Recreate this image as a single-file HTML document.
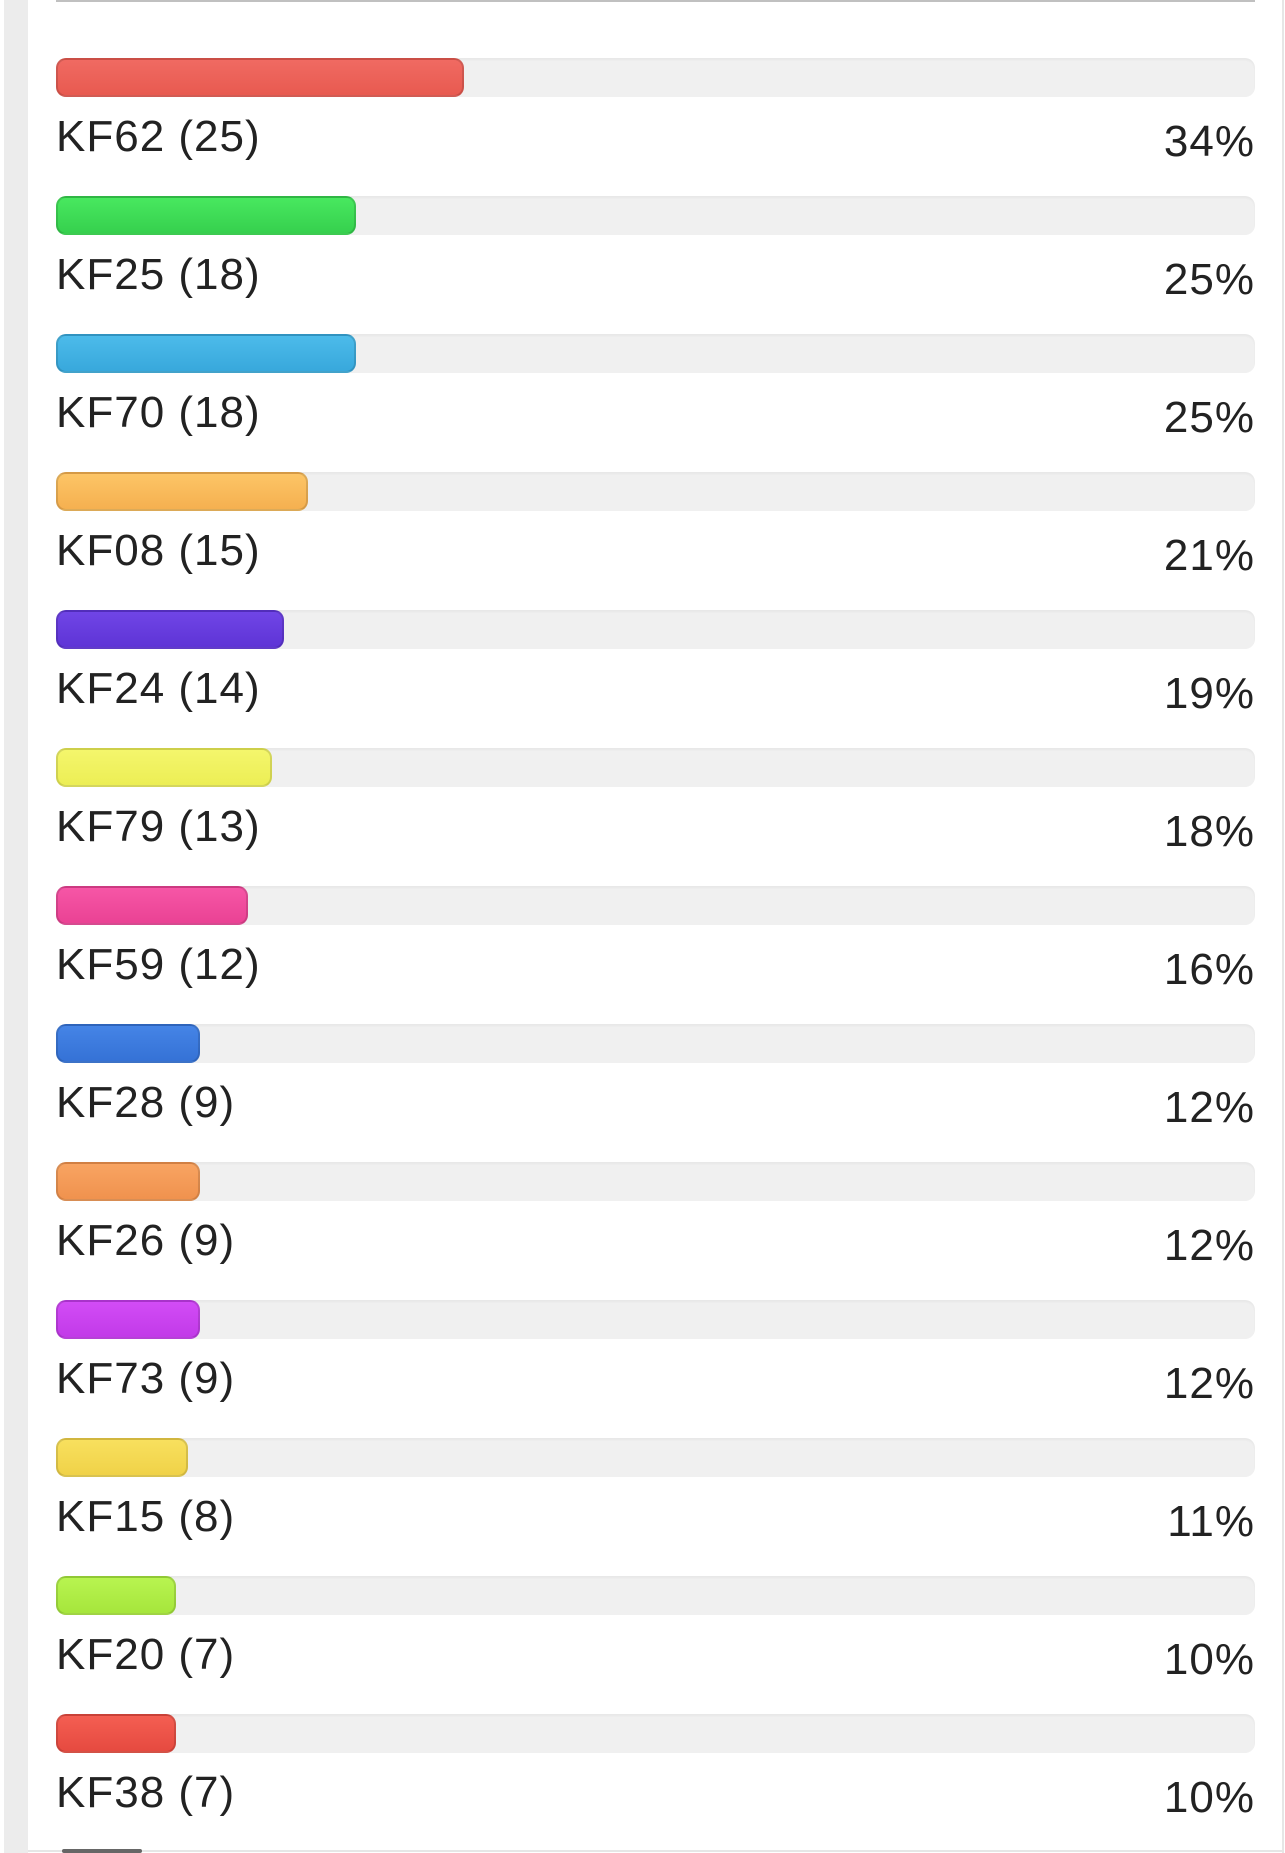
<!DOCTYPE html>
<html><head><style>
body{margin:0;width:1285px;height:1853px;background:#fff;position:relative;overflow:hidden;font-family:"Liberation Sans",sans-serif;color:#222}
.strip{position:absolute;left:4px;top:0;width:24px;height:1853px;background:#ececec}
.rb{position:absolute;left:1282px;top:0;width:2px;height:1853px;background:#e6e6e6}
.top{position:absolute;left:56px;top:0;width:1199px;height:2px;background:#c0c0c0}
.bot{position:absolute;left:28px;top:1850px;width:1254px;height:2px;background:#e6e6e6}
.peek{position:absolute;left:62px;top:1849px;width:80px;height:4px;background:#666;border-radius:2px}
.track{position:absolute;left:56px;width:1199px;height:39px;border-radius:10px;background:#f0f0f0;box-shadow:inset 0 2px 2px rgba(0,0,0,.04)}
.bar{position:absolute;left:0;top:0;border-radius:10px;border:2px solid rgba(0,0,0,.13);box-sizing:border-box;height:39px}
.lab{position:absolute;left:56px;font-size:44px;line-height:1;letter-spacing:1px}
.pct{position:absolute;right:30px;font-size:44px;line-height:1;letter-spacing:1px}
</style></head><body>
<div class="strip"></div><div class="rb"></div><div class="top"></div><div class="bot"></div><div class="peek"></div>
<div id="c"></div>
<script>
var d=[["KF62 (25)",34,"#f06a62","#e85a50"],["KF25 (18)",25,"#48e85f","#36d04e"],["KF70 (18)",25,"#4cbbea","#38a8dc"],["KF08 (15)",21,"#fdc566","#f5b050"],["KF24 (14)",19,"#7045e6","#5e34d6"],["KF79 (13)",18,"#f4f66c","#ecee55"],["KF59 (12)",16,"#f656a6","#ea4294"],["KF28 (9)",12,"#4584e6","#3572d6"],["KF26 (9)",12,"#f8a462","#f0924e"],["KF73 (9)",12,"#d24cf6","#c23ae8"],["KF15 (8)",11,"#f8e05e","#f0d248"],["KF20 (7)",10,"#b8f450","#a6e63c"],["KF38 (7)",10,"#f45e52","#e64a40"]];
var h="";d.forEach(function(r,i){var y=58+i*138;
h+='<div class="track" style="top:'+y+'px"><div class="bar" style="width:'+Math.round(r[1]*11.99)+'px;background:linear-gradient('+r[2]+','+r[3]+')"></div></div>';
h+='<div class="lab" style="top:'+(y+57)+'px">'+r[0]+'</div><div class="pct" style="top:'+(y+62)+'px">'+r[1]+'%</div>';});
document.getElementById("c").innerHTML=h;
</script>
</body></html>
